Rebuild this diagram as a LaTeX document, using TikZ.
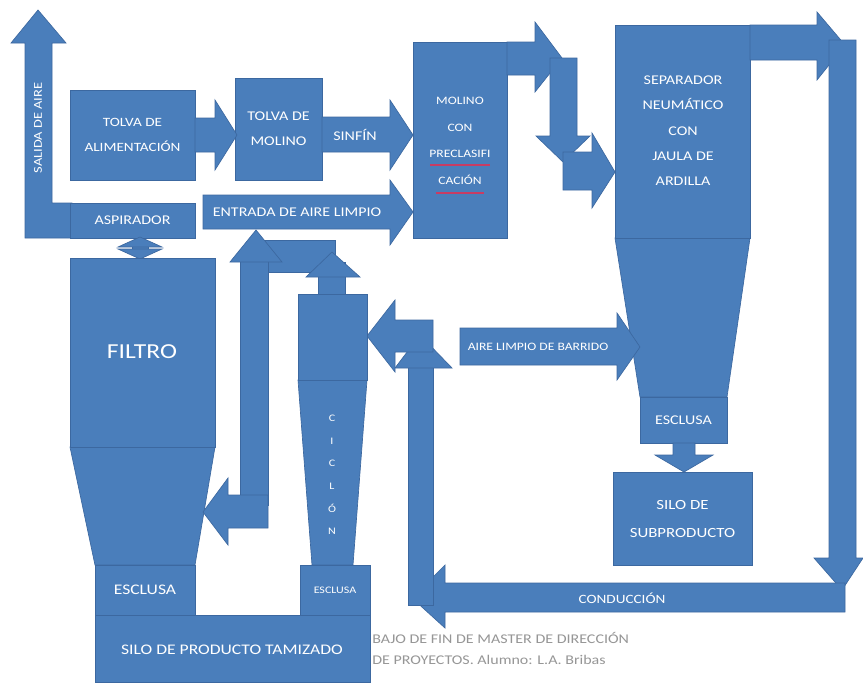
\documentclass[tikz,border=0pt]{standalone}
\usepackage{fontspec}
\setmainfont{Carlito}[FakeStretch=1.2]
\definecolor{blu}{RGB}{74,126,187}
\definecolor{bluD}{RGB}{60,104,160}
\definecolor{foot}{RGB}{150,150,150}
\definecolor{squig}{RGB}{200,60,100}
\newcommand\mybox[5]{\node[boxnode,minimum width=#4*0.75pt,minimum height=#5*0.75pt] (#1) at (#2,#3) {};}
\begin{document}
\begin{tikzpicture}[x=0.75pt,y=-0.75pt,
  blk/.style={fill=blu,draw=bluD,line width=0.5pt,line join=miter},
  boxnode/.style={blk,inner sep=0pt,outer sep=0pt,anchor=north west},
  lbl/.style={text=white,font=\fontsize{10}{11}\selectfont,align=center,inner sep=0pt},
  ftxt/.style={text=foot,font=\fontsize{10}{11}\selectfont,anchor=west,inner sep=0pt}]
\useasboundingbox (0,0) rectangle (863,682);
\fill[white] (0,0) rectangle (863,682);

% ---------- footer (partly hidden by silo) ----------
\node[ftxt] (foot1) at (372,638) {BAJO DE FIN DE MASTER DE DIRECCIÓN};
\node[ftxt] (foot2) at (372,660) {DE PROYECTOS. Alumno: L.A. Bribas};

% ---------- SALIDA DE AIRE (bent up arrow) ----------
\fill[blk] (72,203) -- (72,238) -- (25,238) -- (25,43) -- (11,43) -- (38,10) -- (66,43) -- (52,43) -- (52,203) -- cycle;
\node[lbl,rotate=90,font=\fontsize{9}{10}\selectfont] (salida) at (38,128) {SALIDA DE AIRE};

% ---------- boxes top row ----------
\mybox{talim}{70}{90}{125}{90}
\node[lbl,font=\fontsize{9.5}{11}\selectfont] (talimT) at (talim.center) {TOLVA DE\\[8pt]ALIMENTACIÓN};
\mybox{tmol}{235}{78}{87}{102}
\node[lbl] (tmolT) at (tmol.center) {TOLVA DE\\[8pt]MOLINO};
\mybox{asp}{70}{203}{125}{35}
\node[lbl] (aspT) at (asp.center) {ASPIRADOR};
\mybox{molino}{413}{42}{94}{196}
\node[lbl,font=\fontsize{8.5}{9}\selectfont] (molT) at (460,141) {MOLINO\\[11pt]CON\\[11pt]PRECLASIFI\\[11pt]CACIÓN};
\draw[squig,line width=0.8pt] (430,165) -- (490,165) (436,193) -- (484,193);

% arrows top row
\fill[blk] (195,118) -- (215,118) -- (215,100) -- (237,135) -- (215,170) -- (215,152) -- (195,152) -- cycle;
\fill[blk] (322,117) -- (390,117) -- (390,100) -- (413,135) -- (390,170) -- (390,152) -- (322,152) -- cycle;
\node[lbl] (sinfin) at (355,135) {SINFÍN};
\fill[blk] (203,195) -- (390,195) -- (390,180) -- (413,212) -- (390,245) -- (390,229) -- (203,229) -- cycle;
\node[lbl] (entrada) at (297,212) {ENTRADA DE AIRE LIMPIO};

% molino -> separador
\fill[blk] (507,42) -- (535,42) -- (535,22) -- (562,58) -- (535,92) -- (535,75) -- (507,75) -- cycle;
\fill[blk] (550,58) -- (577,58) -- (577,136) -- (590,136) -- (563,162) -- (536,136) -- (550,136) -- cycle;
\fill[blk] (563,152) -- (592,152) -- (592,133) -- (615,172) -- (592,208) -- (592,190) -- (563,190) -- cycle;

% ---------- separador ----------
\fill[blk] (615,238) -- (750,238) -- (727,397) -- (640,397) -- cycle;
\mybox{sep}{615}{25}{135}{213}
\node[lbl] (sepT) at (683,131) {SEPARADOR\\[8pt]NEUMÁTICO\\[8pt]CON\\[8pt]JAULA DE\\[8pt]ARDILLA};
\mybox{escS}{640}{397}{87}{46}
\node[lbl] (escST) at (escS.center) {ESCLUSA};
\fill[blk] (673,443) -- (695,443) -- (695,455) -- (713,455) -- (684,472) -- (655,455) -- (673,455) -- cycle;
\mybox{siloS}{613}{472}{139}{93}
\node[lbl,font=\fontsize{10.5}{11}\selectfont] (siloST) at (siloS.center) {SILO DE\\[10pt]SUBPRODUCTO};

% top-right loop and conduccion
\fill[blk] (750,25) -- (817,25) -- (817,12) -- (845,45) -- (817,80) -- (817,60) -- (750,60) -- cycle;
\fill[blk] (829,40) -- (856,40) -- (856,558) -- (863,558) -- (842,590) -- (814,558) -- (829,558) -- cycle;
\fill[blk] (845,583) -- (845,612) -- (445,612) -- (445,628) -- (412,598) -- (445,565) -- (445,583) -- cycle;
\node[lbl,font=\fontsize{9.5}{10}\selectfont] (cond) at (622,598) {CONDUCCIÓN};
\fill[blk] (408,360) rectangle (433,605);
\fill[blk] (395,368) -- (452,368) -- (420,335) -- cycle;
\fill[blk] (433,320) -- (433,352) -- (395,352) -- (395,372) -- (367,336) -- (395,300) -- (395,320) -- cycle;

% aire limpio de barrido
\fill[blk] (460,328) -- (617,328) -- (617,313) -- (640,347) -- (617,380) -- (617,365) -- (460,365) -- cycle;
\node[lbl,font=\fontsize{8.5}{9}\selectfont] (barrido) at (538,347) {AIRE LIMPIO DE BARRIDO};

% ---------- filtro ----------
\fill[blk] (132,244) rectangle (148,252);
\fill[blk] (118,247) -- (162,247) -- (140,237) -- cycle;
\fill[blk] (118,249) -- (162,249) -- (140,259) -- cycle;
\fill[blk] (70,447) -- (215,447) -- (195,565) -- (95,565) -- cycle;
\mybox{filtro}{70}{258}{145}{189}
\node[lbl,font=\fontsize{16}{17}\selectfont] (filtroT) at (142,352) {FILTRO};
\mybox{escF}{95}{565}{100}{50}
\node[lbl,font=\fontsize{11}{12}\selectfont] (escFT) at (escF.center) {ESCLUSA};

% ---------- ciclon ----------
\fill[blk] (298,380) -- (367,380) -- (353,565) -- (312,565) -- cycle;
\fill[blk] (318,262) rectangle (345,294);
\mybox{ciclon}{298}{294}{69}{86}
\node[lbl,font=\fontsize{7.5}{8}\selectfont] (cicT) at (332,475) {C\\[9pt]I\\[9pt]C\\[9pt]L\\[9pt]Ó\\[9pt]N};
\mybox{escC}{300}{565}{70}{50}
\node[lbl,font=\fontsize{7.5}{8}\selectfont] (escCT) at (escC.center) {ESCLUSA};

% ciclon -> filtro bent arrow
\fill[blk] (262,240) rectangle (335,272);
\fill[blk] (306,277) -- (360,277) -- (332,252) -- cycle;
\fill[blk] (240,250) rectangle (268,505);
\fill[blk] (230,262) -- (282,262) -- (256,230) -- cycle;
\fill[blk] (268,495) -- (268,528) -- (228,528) -- (228,545) -- (203,512) -- (228,478) -- (228,495) -- cycle;

% ---------- silo producto ----------
\mybox{siloP}{95}{615}{275}{67}
\node[lbl,font=\fontsize{11}{12}\selectfont] (siloPT) at (232,650) {SILO DE PRODUCTO TAMIZADO};
\end{tikzpicture}
\end{document}
